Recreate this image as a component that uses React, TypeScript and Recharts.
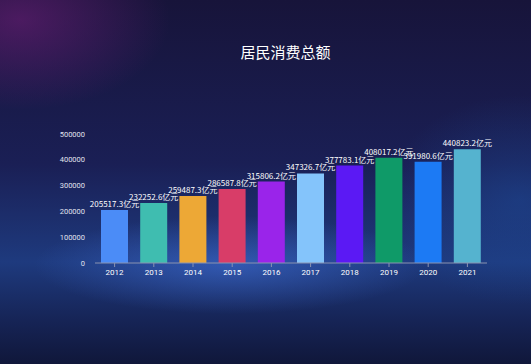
import React from "react";
import { BarChart, Bar, XAxis, YAxis, Cell, LabelList } from "recharts";

const years = ["2012", "2013", "2014", "2015", "2016", "2017", "2018", "2019", "2020", "2021"];
const totals = [205517.3, 232252.6, 259487.3, 286587.8, 315806.2, 347326.7, 377783.1, 408017.2, 391980.6, 440823.2];
const barColors = ["#4b8cf7", "#3fbdb0", "#eda836", "#d83d68", "#9a24ea", "#84c4fb", "#5b19f4", "#0f9a68", "#1c7af4", "#55b3cf"];
const yTicks = [0, 100000, 200000, 300000, 400000, 500000];

const data = years.map((year, i) => ({ year, total: totals[i] }));

const App: React.FC = () => {
  return (
    <div
      style={{
        position: "fixed",
        left: 0,
        top: 0,
        width: 531,
        height: 364,
        overflow: "hidden",
        background:
          "radial-gradient(ellipse 280px 70px at 230px 265px, rgba(70,120,230,0.5), rgba(0,0,0,0) 70%)," +
          "radial-gradient(ellipse 200px 120px at 20px 20px, rgba(110,30,120,0.6), rgba(0,0,0,0) 75%)," +
          "radial-gradient(ellipse 180px 140px at 520px 200px, rgba(30,80,160,0.45), rgba(0,0,0,0) 75%)," +
          "linear-gradient(180deg, #17143a 0%, #1a1f55 45%, #1e3a7e 72%, #162456 88%, #10173a 100%)",
      }}
    >
      <div
        style={{
          position: "absolute",
          top: 41,
          left: 0,
          width: 571,
          textAlign: "center",
          color: "#ffffff",
          fontFamily: "'Noto Sans CJK SC', sans-serif",
          fontSize: 15,
        }}
      >
        居民消费总额
      </div>
      <div style={{ position: "absolute", left: 0, top: 0 }}>
        <BarChart
          width={531}
          height={364}
          data={data}
          margin={{ top: 134, right: 44, left: 0, bottom: 81 }}
        >
          <XAxis
            dataKey="year"
            height={20}
            stroke="#8a93b0"
            tick={{ fill: "#ffffff", fontSize: 8, fontFamily: "Roboto, sans-serif" }}
            tickSize={4}
          />
          <YAxis
            width={95}
            domain={[0, 500000]}
            ticks={yTicks}
            axisLine={false}
            tickLine={false}
            tickMargin={4}
            tick={{ fill: "#e0e3ee", fontSize: 7.5, fontFamily: "Roboto, sans-serif" }}
          />
          <Bar dataKey="total" barSize={27} isAnimationActive={false}>
            {data.map((d, i) => (
              <Cell key={d.year} fill={barColors[i]} />
            ))}
            <LabelList
              dataKey="total"
              position="top"
              offset={3}
              formatter={(v: number) => `${v}亿元`}
              style={{ fill: "#ffffff", fontSize: 8, fontFamily: "'Noto Sans CJK SC', sans-serif" }}
            />
          </Bar>
        </BarChart>
      </div>
    </div>
  );
};

export default App;
